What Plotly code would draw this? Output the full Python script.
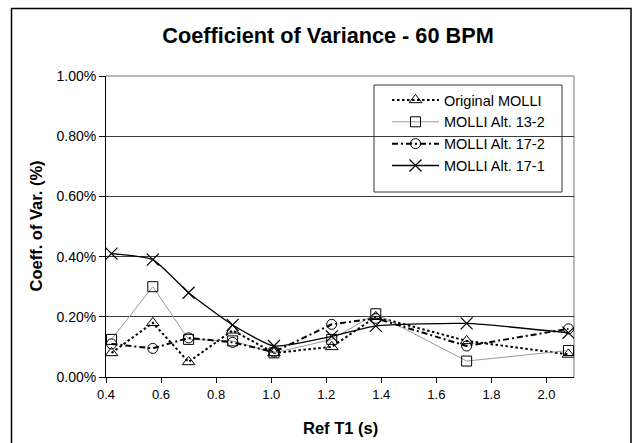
import plotly.graph_objects as go

# Reference T1 values (s)
ref_t1 = [0.42, 0.57, 0.70, 0.86, 1.01, 1.22, 1.38, 1.71, 2.08]

# Coefficient of variance (fraction) per sequence
original_molli = [0.00080, 0.00180, 0.00050, 0.00155, 0.00080, 0.00100, 0.00200, 0.00120, 0.00075]
alt_13_2 = [0.00125, 0.00300, 0.00125, 0.00120, 0.00080, 0.00125, 0.00210, 0.00053, 0.00088]
alt_17_2 = [0.00110, 0.00095, 0.00130, 0.00115, 0.00083, 0.00175, 0.00195, 0.00103, 0.00160]
alt_17_1 = [0.00410, 0.00390, 0.00280, 0.00173, 0.00103, 0.00135, 0.00170, 0.00178, 0.00147]

series_names = ["Original MOLLI", "MOLLI Alt. 13-2", "MOLLI Alt. 17-2", "MOLLI Alt. 17-1"]

x_ticks = [0.4, 0.6, 0.8, 1.0, 1.2, 1.4, 1.6, 1.8, 2.0]
y_ticks = [0.0, 0.002, 0.004, 0.006, 0.008, 0.010]

FONT = "Liberation Sans, Arial, sans-serif"

fig = go.Figure()

fig.add_trace(go.Scatter(
    x=ref_t1, y=original_molli, name=series_names[0], mode="lines+markers",
    line=dict(color="black", width=2, dash="2.5px,2.5px"),
    marker=dict(symbol="triangle-up-open", size=11, color="black", line=dict(width=1)),
))
fig.add_trace(go.Scatter(
    x=ref_t1, y=alt_13_2, name=series_names[1], mode="lines+markers",
    line=dict(color="#9a9a9a", width=1),
    marker=dict(symbol="square-open", size=10, color="black", line=dict(width=1)),
))
fig.add_trace(go.Scatter(
    x=ref_t1, y=alt_17_2, name=series_names[2], mode="lines+markers",
    line=dict(color="black", width=2, dash="6px,3px,2px,3px"),
    marker=dict(symbol="circle-open", size=10, color="black", line=dict(width=1)),
))
fig.add_trace(go.Scatter(
    x=ref_t1, y=alt_17_1, name=series_names[3], mode="lines+markers",
    line=dict(color="black", width=1.3, shape="spline", smoothing=0.5),
    marker=dict(symbol="x-thin-open", size=12, color="black", line=dict(width=1.2)),
))

plot_l, plot_r, plot_t, plot_b = 106, 574, 76, 377
W, H = 636, 443
pw, ph = plot_r - plot_l, plot_b - plot_t


def px_x(p):
    return (p - plot_l) / pw


def px_y(p):
    return (plot_b - p) / ph


shapes = [
    # outer chart frame
    dict(type="rect", xref="paper", yref="paper",
         x0=px_x(11.5), x1=px_x(631), y0=px_y(460), y1=px_y(8.5),
         line=dict(color="black", width=1.5), fillcolor="rgba(0,0,0,0)", layer="below"),
    # plot area border (top and right)
    dict(type="line", xref="paper", yref="paper", x0=0, x1=1, y0=1, y1=1,
         line=dict(color="#a0a0a0", width=1.5), layer="between"),
    dict(type="line", xref="paper", yref="paper", x0=1, x1=1, y0=0, y1=1,
         line=dict(color="#a0a0a0", width=1.5), layer="between"),
    # legend box
    dict(type="rect", xref="paper", yref="paper",
         x0=px_x(374), x1=px_x(562), y0=px_y(192), y1=px_y(85),
         line=dict(color="#333333", width=1), fillcolor="white", layer="between"),
]

fig.update_layout(
    width=W, height=H,
    margin=dict(l=plot_l, r=W - plot_r, t=plot_t, b=H - plot_b),
    paper_bgcolor="white", plot_bgcolor="white",
    font=dict(family=FONT, color="black"),
    title=dict(text="<b>Coefficient of Variance - 60 BPM</b>",
               font=dict(size=21.7, family=FONT, color="black"),
               x=(328) / W, xanchor="center", y=1 - 35 / H, yanchor="middle",
               xref="container", yref="container"),
    xaxis=dict(range=[0.4, 2.1], tickvals=x_ticks, tickformat=".1f",
               showline=True, linecolor="black", linewidth=1,
               ticks="outside", ticklen=5, tickcolor="black", tickwidth=1,
               showgrid=False, zeroline=False,
               tickfont=dict(size=13, family=FONT, color="black")),
    yaxis=dict(range=[0, 0.010], tickvals=y_ticks, tickformat=".2%",
               showline=True, linecolor="black", linewidth=1,
               ticks="outside", ticklen=6, tickcolor="black", tickwidth=1,
               showgrid=True, gridcolor="#3c3c3c", gridwidth=1, zeroline=False,
               tickfont=dict(size=14, family=FONT, color="black")),
    xaxis2=dict(overlaying="x", matches="x", range=[0.4, 2.1], tickvals=x_ticks,
                ticks="inside", ticklen=4, tickcolor="black", showticklabels=False,
                showgrid=False, zeroline=False, showline=False),
    yaxis2=dict(overlaying="y", matches="y", range=[0, 0.010], tickvals=y_ticks,
                ticks="inside", ticklen=4, tickcolor="black", showticklabels=False,
                showgrid=False, zeroline=False, showline=False),
    showlegend=True,
    legend=dict(x=px_x(387), y=px_y(84), xanchor="left", yanchor="top",
                bgcolor="rgba(0,0,0,0)", borderwidth=0,
                font=dict(size=14.5, family=FONT, color="black"),
                itemwidth=47, tracegroupgap=0),
    shapes=shapes,
    annotations=[
        dict(text="<b>Coeff. of Var. (%)</b>", xref="paper", yref="paper",
             x=px_x(35), y=0.5, textangle=-90, showarrow=False,
             xanchor="center", yanchor="middle",
             font=dict(size=16.5, family=FONT, color="black")),
        dict(text="<b>Ref T1 (s)</b>", xref="paper", yref="paper",
             x=0.5, y=px_y(428), showarrow=False,
             xanchor="center", yanchor="middle",
             font=dict(size=16.5, family=FONT, color="black")),
    ],
)

fig.write_html("out.html")
